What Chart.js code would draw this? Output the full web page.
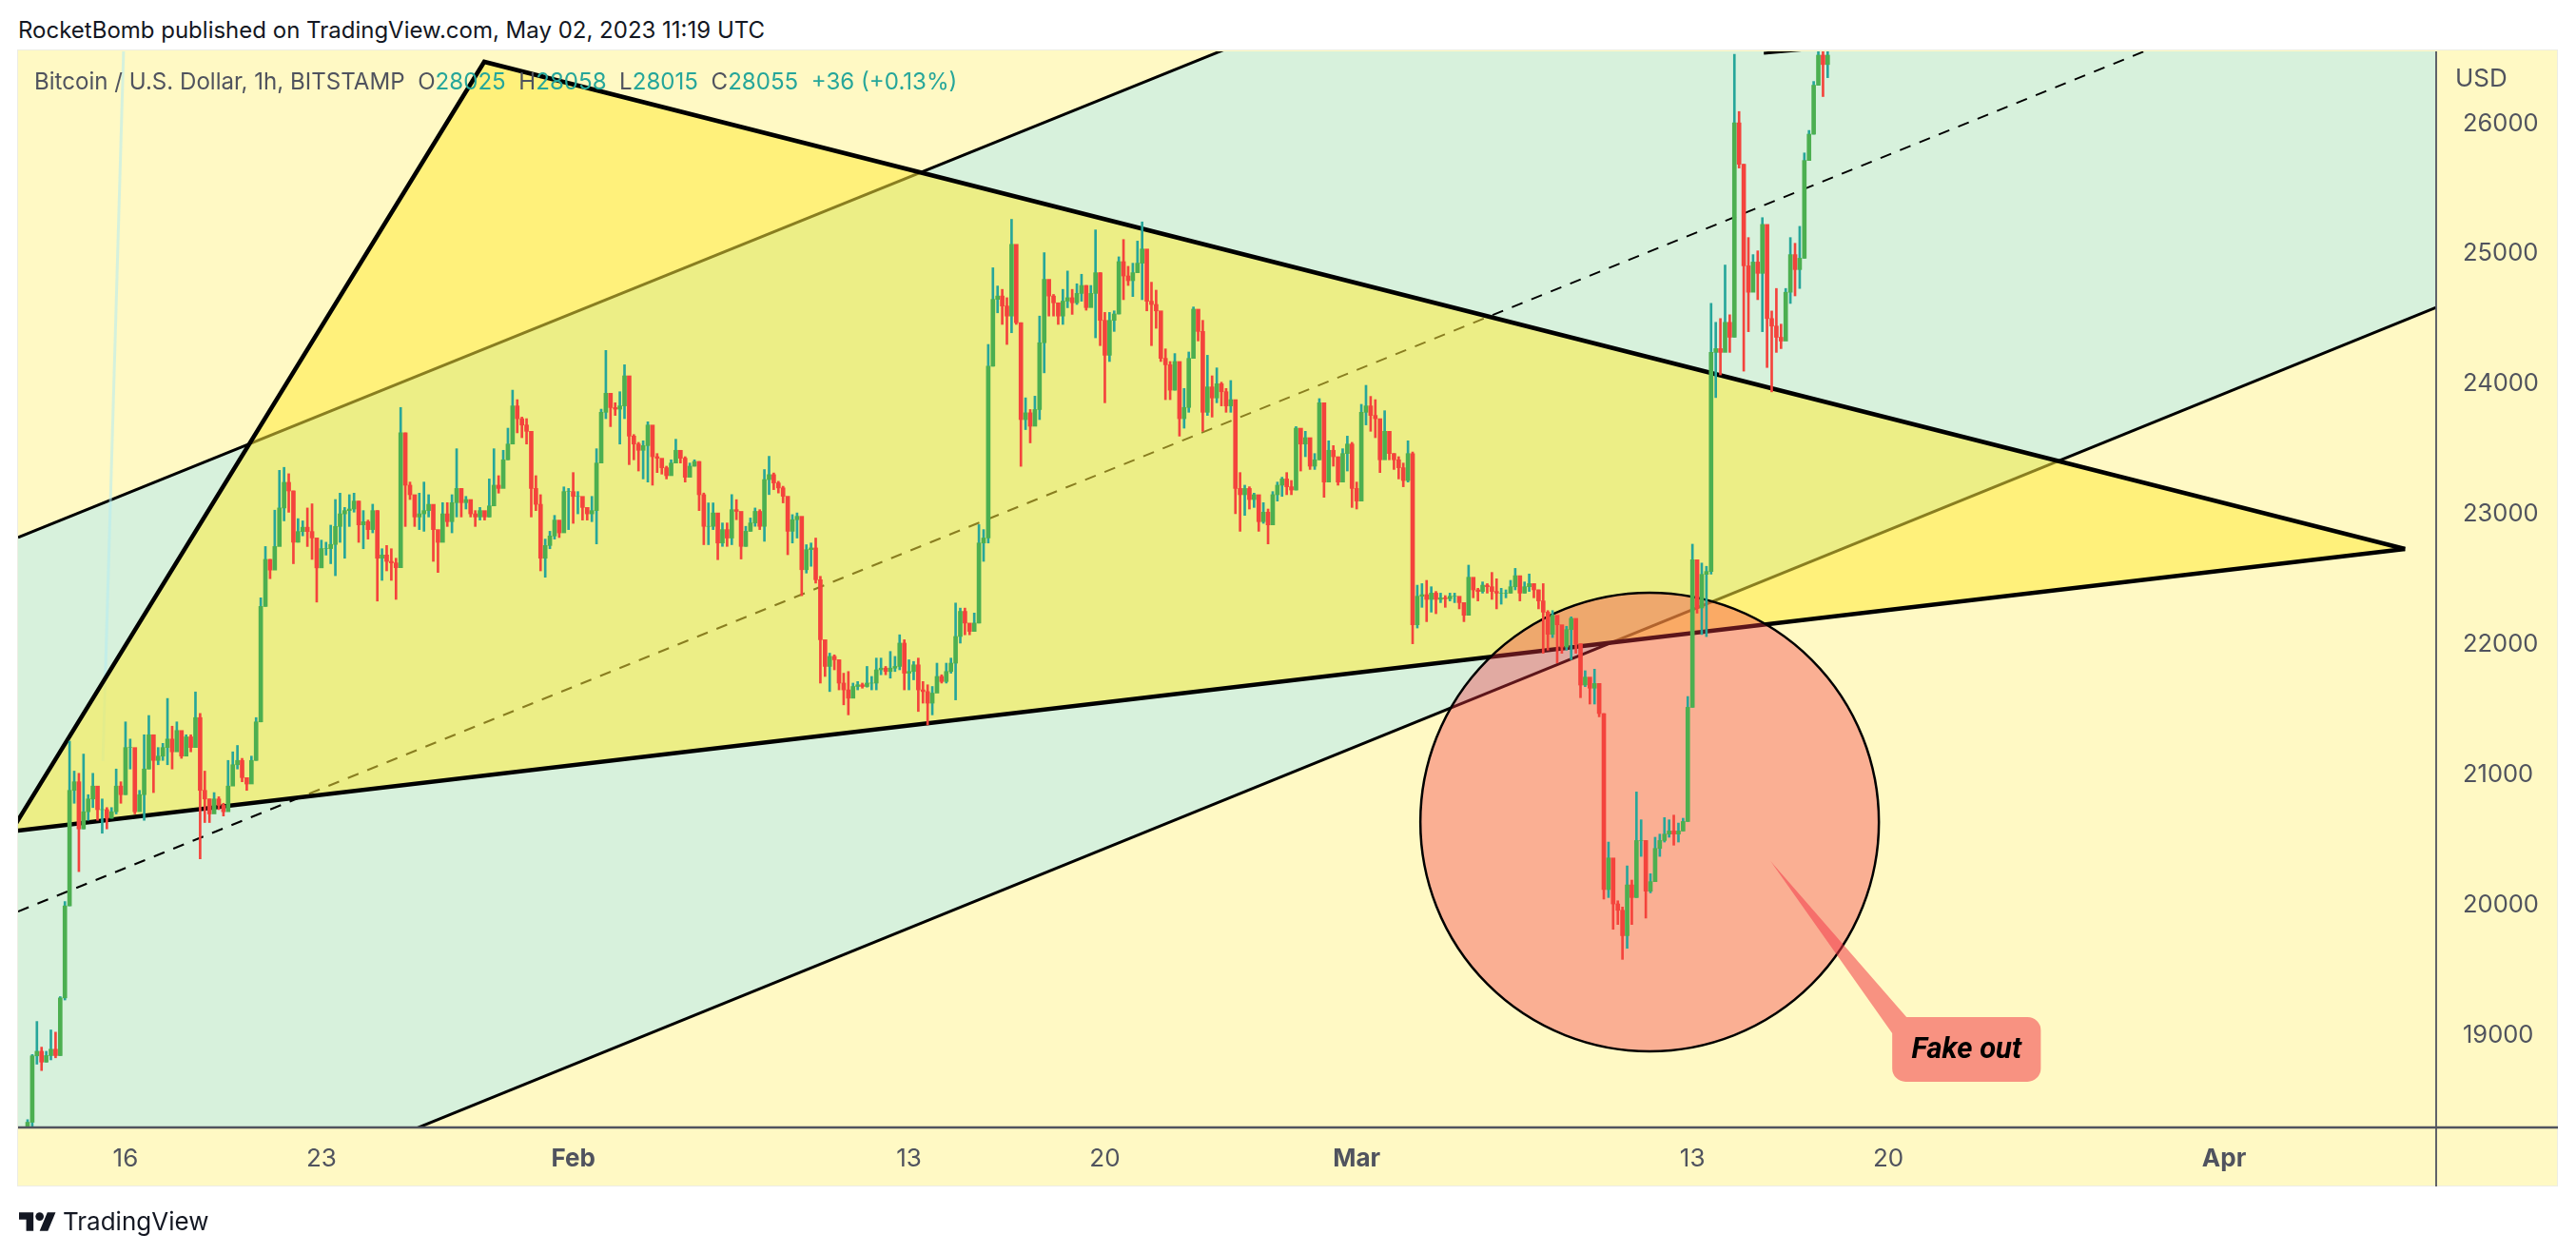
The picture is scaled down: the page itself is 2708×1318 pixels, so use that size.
<!DOCTYPE html>
<html>
<head>
<meta charset="utf-8">
<title>Bitcoin / U.S. Dollar</title>
<script src="https://cdn.jsdelivr.net/npm/chart.js@4/dist/chart.umd.js"></script>
<style>
    html, body { margin: 0; padding: 0; background: #fff; width: 2708px; height: 1318px; overflow: hidden; font-family: Inter, sans-serif; }
    #published { position: absolute; left: 19px; top: 17px; font-size: 24px; line-height: 30px; color: #131722; white-space: nowrap; }
    #panel { position: absolute; left: 18px; top: 52px; width: 2671px; height: 1195px; background: #FFF9C4; border: 1.5px solid #EDEDE4; box-sizing: border-box; }
    #chart { position: absolute; left: 0; top: 0; }
    #legend { position: absolute; left: 36px; top: 71px; font-size: 24.1px; line-height: 30px; color: #50535E; white-space: pre; }
    #legend b { font-weight: 400; color: #26A69A; }
    #usd { position: absolute; left: 2581px; top: 67px; font-size: 26px; line-height: 30px; color: #50535E; }
    #brand { position: absolute; left: 20px; top: 1270px; display: flex; align-items: center; color: #131722; font-size: 26px; line-height: 28px; }
    #brand svg { width: 39px; height: 24px; margin-right: 7px; }
</style>
</head>
<body>
<div id="published">RocketBomb published on TradingView.com, May 02, 2023 11:19 UTC</div>
<div id="panel"></div>
<canvas id="chart" width="2708" height="1318"></canvas>
<div id="legend">Bitcoin / U.S. Dollar, 1h, BITSTAMP  O<b>28025</b>  H<b>28058</b>  L<b>28015</b>  C<b>28055</b>  <b>+36 (+0.13%)</b></div>
<div id="usd">USD</div>
<div id="brand">
    <svg viewBox="0 0 36 18"><path fill="#131722" d="M14 18H7V7H0V0h14v18zM28 18h-8l7.5-18h8L28 18z"/><circle fill="#131722" cx="20" cy="4" r="4"/></svg>
    <span>TradingView</span>
</div>

<script>
// --- Axes (x is days since Jan 1 2023) ---
const DAY_MIN = 11.16;
const DAY_MAX = 97.58;
const PRICE_MIN = 18290;
const PRICE_MAX = 26555;

const dayTicks = [15, 22, 31, 43, 50, 59, 71, 78, 90];
const dayLabels = ['16', '23', 'Feb', '13', '20', 'Mar', '13', '20', 'Apr'];
const monthLabels = ['Feb', 'Mar', 'Apr'];
const priceTicks = [19000, 20000, 21000, 22000, 23000, 24000, 25000, 26000];

// --- Price series at about one candle per 4 hours ---
const FIRST_CANDLE_DAY = 11.5;
const CANDLES_PER_DAY = 6;

const candleCloses = [
    18330, 18840, 18875, 18792, 18842, 18891, 18842, 19285, 19992, 20879, 20945, 20583, 20715, 20813, 20912, 20731, 20731, 20665, 20715, 20912,
    20846, 21208, 21208, 20715, 20846, 21043, 21306, 21109, 21142, 21208, 21273, 21175, 21339, 21142, 21290, 21208, 21438, 20879, 20813, 20698,
    20813, 20764, 20715, 20912, 21076, 21109, 20977, 20928, 21109, 21405, 22292, 22653, 22571, 22752, 23048, 23245, 23179, 22785, 22867, 22900,
    22867, 22818, 22588, 22736, 22736, 22768, 22906, 23003, 23028, 23040, 23101, 22918, 22943, 22882, 23028, 22662, 22687, 22638, 22626, 22589,
    23625, 23223, 23150, 22979, 23003, 23028, 23076, 22882, 22784, 23003, 22943, 23089, 23198, 23089, 23113, 23003, 22979, 23028, 22979, 23064,
    23223, 23198, 23418, 23539, 23832, 23734, 23685, 23637, 23198, 23076, 22662, 22760, 22833, 22955, 22857, 23174, 23174, 23137, 23137, 23052,
    23003, 23028, 23393, 23783, 23929, 23819, 23807, 23832, 24063, 23600, 23539, 23491, 23527, 23685, 23442, 23430, 23357, 23296, 23393, 23491,
    23430, 23284, 23369, 23405, 23150, 22907, 22907, 23010, 22779, 22882, 22817, 23035, 23022, 22753, 22869, 22933, 23022, 22907, 23266, 23304,
    23240, 23202, 23138, 22869, 22958, 22984, 22574, 22728, 22741, 22497, 22036, 21831, 21908, 21882, 21703, 21651, 21587, 21677, 21690, 21677,
    21703, 21703, 21805, 21818, 21792, 21818, 21831, 22010, 21779, 21792, 21843, 21651, 21638, 21549, 21626, 21754, 21715, 21792, 21856, 22061,
    22254, 22164, 22100, 22164, 22779, 22817, 24137, 24650, 24676, 24599, 24522, 25073, 24471, 23727, 23779, 23676, 23804, 24317, 24804, 24676,
    24624, 24522, 24637, 24663, 24624, 24696, 24757, 24587, 24696, 24855, 24489, 24221, 24489, 24538, 24940, 24830, 24794, 24855, 24928, 25037,
    24636, 24611, 24562, 24197, 24148, 23953, 24173, 23734, 23820, 24197, 24575, 24404, 23783, 23978, 23893, 24002, 23941, 23832, 23880, 23198,
    23150, 23198, 23113, 23150, 22943, 23016, 22918, 23150, 23223, 23271, 23211, 23186, 23661, 23539, 23588, 23369, 23418, 23856, 23247, 23491,
    23442, 23247, 23466, 23539, 23198, 23101, 23783, 23832, 23759, 23734, 23418, 23637, 23466, 23418, 23357, 23259, 23466, 22151, 22370, 22382,
    22346, 22394, 22346, 22358, 22351, 22370, 22370, 22321, 22224, 22516, 22419, 22407, 22455, 22443, 22407, 22394, 22394, 22394, 22443, 22528,
    22394, 22443, 22467, 22419, 22334, 22248, 22078, 22224, 22151, 21980, 22114, 22200, 22005, 21688, 21749, 21664, 21700, 21469, 20117, 20360,
    20007, 19958, 19763, 20153, 20056, 20494, 20494, 20105, 20178, 20433, 20494, 20543, 20567, 20543, 20567, 20640, 21517, 22650, 22280, 22538,
    22560, 24243, 24272, 24243, 24474, 24359, 26006, 25688, 24908, 24705, 24937, 24850, 25226, 24503, 24445, 24359, 24330, 24705, 24994, 24879,
    24966, 25717, 25919, 26295, 26526, 26454, 26526
];

const candleHighs = [
    18350, 18850, 19104, 18907, 18875, 19039, 19022, 19295, 20025, 21257, 21027, 21010, 21158, 20846, 21010, 20813, 20813, 20747, 20747, 21043,
    20945, 21405, 21273, 21142, 20879, 21306, 21454, 21306, 21208, 21240, 21585, 21372, 21405, 21306, 21306, 21306, 21635, 21470, 21027, 20813,
    20862, 20830, 20780, 21109, 21175, 21224, 21125, 20977, 21142, 21438, 22358, 22752, 22653, 23031, 23337, 23360, 23311, 23179, 22966, 22949,
    23048, 23080, 22752, 22801, 22785, 22916, 23113, 23162, 23052, 23150, 23162, 23101, 23028, 22955, 23077, 23028, 22735, 22760, 22735, 22662,
    23820, 23625, 23247, 23101, 23162, 23247, 23150, 23028, 22809, 23089, 23089, 23150, 23503, 23198, 23137, 23101, 23028, 23052, 23016, 23271,
    23503, 23296, 23491, 23661, 23953, 23880, 23746, 23734, 23539, 23296, 23150, 22809, 22869, 22991, 22930, 23210, 23198, 23320, 23174, 23125,
    23028, 23137, 23503, 23807, 24258, 23856, 23856, 23941, 24148, 23917, 23612, 23552, 23564, 23710, 23637, 23466, 23405, 23369, 23418, 23576,
    23466, 23442, 23393, 23418, 23405, 23163, 23087, 23087, 22946, 22933, 22933, 23151, 23112, 22958, 22907, 22971, 23048, 23035, 23343, 23445,
    23317, 23253, 23215, 23125, 22997, 23010, 22971, 22766, 22779, 22817, 22523, 21933, 21933, 21920, 21882, 21779, 21792, 21703, 21715, 21703,
    21831, 21754, 21895, 21895, 21831, 21946, 21908, 22074, 22036, 21882, 21869, 21895, 21715, 21690, 21677, 21856, 21767, 21856, 21895, 22318,
    22279, 22279, 22138, 22241, 22920, 22882, 24304, 24893, 24753, 24727, 24663, 25265, 25009, 24471, 23894, 23804, 23907, 24522, 25009, 24765,
    24688, 24599, 24727, 24868, 24727, 24770, 24843, 24757, 24757, 25184, 24855, 24550, 24550, 24562, 24977, 25110, 24904, 24928, 25098, 25245,
    24818, 24782, 24721, 24465, 24270, 24173, 24234, 24124, 23966, 24246, 24592, 24514, 24489, 24221, 24063, 24124, 24014, 23966, 24027, 23856,
    23320, 23223, 23211, 23162, 23101, 23089, 23040, 23174, 23247, 23284, 23320, 23259, 23673, 23637, 23637, 23466, 23466, 23888, 23564, 23564,
    23527, 23405, 23503, 23600, 23552, 23247, 23844, 23990, 23905, 23880, 23710, 23795, 23637, 23466, 23442, 23393, 23564, 23478, 22455, 22467,
    22492, 22443, 22407, 22394, 22375, 22394, 22394, 22358, 22321, 22609, 22467, 22431, 22480, 22467, 22553, 22504, 22431, 22419, 22492, 22584,
    22516, 22480, 22541, 22467, 22419, 22467, 22260, 22260, 22200, 22053, 22139, 22212, 22114, 22005, 21798, 21737, 21810, 21700, 21469, 20482,
    20129, 20031, 19983, 20299, 20190, 20867, 20653, 20494, 20239, 20519, 20543, 20670, 20653, 20689, 20628, 20665, 21600, 22770, 22650, 22625,
    22600, 24619, 24474, 24503, 24914, 24532, 26532, 26093, 25688, 25125, 24994, 25023, 25278, 25197, 24561, 24734, 24460, 24734, 25125, 25081,
    25211, 25775, 25948, 26324, 26640, 26620, 26640
];

const candleLows = [
    18280, 18290, 18776, 18727, 18792, 18809, 18825, 18842, 19269, 19992, 20780, 20255, 20583, 20649, 20747, 20649, 20550, 20583, 20665, 20698,
    20780, 20846, 21043, 20698, 20764, 20649, 21043, 20862, 21076, 21109, 21076, 21043, 21273, 21125, 21240, 21175, 21208, 20353, 20632, 20632,
    20731, 20731, 20682, 20780, 20945, 21043, 20945, 20879, 20945, 21109, 21405, 22292, 22505, 22653, 22785, 22949, 23015, 22620, 22785, 22834,
    22752, 22653, 22325, 22653, 22686, 22620, 22528, 22784, 22662, 22906, 23016, 22784, 22735, 22809, 22857, 22333, 22492, 22565, 22492, 22346,
    22711, 22906, 23113, 22906, 22882, 22869, 22979, 22638, 22553, 22809, 22906, 22857, 22979, 22979, 23040, 22979, 22906, 22955, 22955, 22979,
    23076, 23162, 23296, 23418, 23637, 23625, 23588, 23539, 22979, 23028, 22565, 22516, 22735, 22809, 22821, 22906, 22882, 22930, 23003, 22955,
    22955, 22943, 22772, 23393, 23734, 23673, 23759, 23539, 23734, 23381, 23418, 23332, 23271, 23247, 23223, 23320, 23308, 23271, 23344, 23393,
    23393, 23247, 23296, 23369, 23028, 22766, 22766, 22882, 22651, 22753, 22753, 22766, 22958, 22656, 22753, 22869, 22907, 22882, 22792, 23151,
    23189, 23163, 23087, 22689, 22779, 22817, 22374, 22548, 22600, 22471, 21703, 21754, 21638, 21805, 21651, 21536, 21459, 21626, 21651, 21664,
    21672, 21651, 21651, 21767, 21767, 21741, 21792, 21805, 21651, 21651, 21728, 21485, 21549, 21382, 21459, 21651, 21703, 21703, 21779, 21574,
    22010, 22074, 22074, 22100, 22164, 22638, 22779, 24137, 24547, 24458, 24304, 24394, 24458, 23368, 23650, 23548, 23702, 23727, 24086, 24522,
    24522, 24458, 24458, 24586, 24535, 24611, 24636, 24567, 24660, 24355, 24295, 23856, 24173, 24404, 24538, 24648, 24757, 24672, 24855, 24648,
    24562, 24295, 24428, 24173, 23880, 23880, 23953, 23600, 23661, 23783, 24197, 24331, 23637, 23759, 23746, 23856, 23832, 23783, 23783, 23004,
    22869, 22991, 23040, 23052, 22869, 22930, 22772, 23077, 23101, 23137, 23150, 23150, 23186, 23332, 23442, 23344, 23344, 23418, 23130, 23357,
    23369, 23223, 23332, 23332, 23052, 23040, 23101, 23686, 23637, 23588, 23320, 23442, 23418, 23344, 23271, 23211, 23247, 22005, 22126, 22285,
    22175, 22248, 22236, 22321, 22285, 22334, 22321, 22273, 22175, 22224, 22358, 22334, 22394, 22394, 22346, 22273, 22309, 22358, 22394, 22419,
    22334, 22394, 22407, 22358, 22273, 21932, 21956, 22053, 21858, 21932, 21956, 21883, 21932, 21591, 21676, 21542, 21542, 21444, 20044, 20056,
    19812, 19849, 19581, 19666, 19849, 20056, 20372, 19898, 20092, 20202, 20372, 20482, 20519, 20458, 20482, 20567, 20640, 21517, 22240, 22076,
    22060, 22540, 23896, 24070, 24301, 24243, 24359, 25659, 24099, 24402, 24734, 24648, 24402, 24127, 23940, 24243, 24272, 24431, 24619, 24677,
    24734, 24966, 25746, 25919, 26295, 26208, 26353
];

// --- Drawn lines as [day, price] points ---
const channelUpper = [[11.16, 22821], [97.58, 30333]];
const channelLower = [[11.16, 17040], [97.58, 24589]];
const channelMiddle = [[11.16, 19949], [97.58, 27462]];
const faintLine = [[14.93, 26555], [14.19, 21103]];
const triangleUpper = [[10.91, 20563], [27.82, 26475], [96.47, 22733]];
const triangleLower = [[10.91, 20563], [96.47, 22733]];
const topEdgeLine = [[73.55, 26541], [75.12, 26570]];
const fakeOutCircle = [[69.47, 20636]];

// Callout anchored to the chart: tip and opposite corners of the label box
const calloutTip = [73.79, 20336];
const calloutBoxStart = [78.14, 19138];
const calloutBoxEnd = [83.45, 18641];
const calloutText = 'Fake out';

const UP_BODY = '#4CAF50';
const UP_WICK = '#26A69A';
const DOWN = '#F4433C';

const toPoints = arr => arr.map(p => ({ x: p[0], y: p[1] }));

function candleDatasets() {
    const days = candleCloses.map((_, i) => FIRST_CANDLE_DAY + i / CANDLES_PER_DAY);
    const opens = candleCloses.map((c, i) => i === 0 ? candleLows[0] : candleCloses[i - 1]);
    const isUp = candleCloses.map((c, i) => c >= opens[i]);

    return [
        {
            type: 'bar', order: 2, grouped: false, barThickness: 2,
            data: days.map((d, i) => ({ x: d, y: [candleLows[i], candleHighs[i]] })),
            backgroundColor: isUp.map(up => up ? UP_WICK : DOWN)
        },
        {
            type: 'bar', order: 1, grouped: false, barThickness: 4,
            data: days.map((d, i) => ({ x: d, y: [opens[i], candleCloses[i]] })),
            backgroundColor: isUp.map(up => up ? UP_BODY : DOWN)
        }
    ];
}

function lineDataset(points, order, width, extra) {
    return Object.assign({
        type: 'line', order: order, data: toPoints(points),
        borderColor: '#000', borderWidth: width, pointRadius: 0, tension: 0, fill: false, clip: 0
    }, extra);
}

// Axis lines run on into the price and time panels, so Chart.js borders are not enough
const axisFrame = {
    id: 'axisFrame',
    afterDatasetsDraw(chart) {
        const { ctx, scales: { x, y } } = chart;
        ctx.save();
        ctx.strokeStyle = '#50535E';
        ctx.lineWidth = 2.4;
        ctx.beginPath();
        ctx.moveTo(x.left, y.bottom);
        ctx.lineTo(y.right, y.bottom);
        ctx.stroke();
        ctx.lineWidth = 1.8;
        ctx.beginPath();
        ctx.moveTo(x.right, y.top);
        ctx.lineTo(x.right, x.bottom);
        ctx.stroke();
        ctx.restore();
    }
};

const fakeOutCallout = {
    id: 'fakeOutCallout',
    afterDatasetsDraw(chart) {
        const { ctx, scales: { x, y } } = chart;
        const tipX = x.getPixelForValue(calloutTip[0]);
        const tipY = y.getPixelForValue(calloutTip[1]);
        const left = x.getPixelForValue(calloutBoxStart[0]);
        const top = y.getPixelForValue(calloutBoxStart[1]);
        const right = x.getPixelForValue(calloutBoxEnd[0]);
        const bottom = y.getPixelForValue(calloutBoxEnd[1]);
        const r = 14;

        ctx.save();
        ctx.fillStyle = 'rgba(242, 54, 69, 0.53)';
        ctx.beginPath();
        ctx.moveTo(tipX, tipY);
        ctx.lineTo(left + 15, top);
        ctx.lineTo(right - r, top);
        ctx.arcTo(right, top, right, top + r, r);
        ctx.lineTo(right, bottom - r);
        ctx.arcTo(right, bottom, right - r, bottom, r);
        ctx.lineTo(left + r, bottom);
        ctx.arcTo(left, bottom, left, bottom - r, r);
        ctx.lineTo(left, top + 17);
        ctx.closePath();
        ctx.fill();

        ctx.fillStyle = '#000';
        ctx.font = 'italic bold 31px Roboto';
        ctx.textAlign = 'center';
        ctx.textBaseline = 'middle';
        ctx.fillText(calloutText, (left + right) / 2, (top + bottom) / 2 + 1);
        ctx.restore();
    }
};

new Chart(document.getElementById('chart').getContext('2d'), {
    data: {
        datasets: [
            lineDataset(channelUpper, 10, 3, { fill: '+1', backgroundColor: '#D7F1DC' }),
            lineDataset(channelLower, 9, 3),
            lineDataset(channelMiddle, 8, 2, { borderDash: [12, 10] }),
            lineDataset(faintLine, 8, 3, { borderColor: 'rgba(178, 235, 242, 0.55)' }),
            lineDataset(triangleUpper, 7, 4.5, { fill: '+1', backgroundColor: 'rgba(255, 235, 59, 0.537)' }),
            lineDataset(triangleLower, 6, 4.5),
            lineDataset(topEdgeLine, 6, 3),
            {
                type: 'line', order: 3, data: toPoints(fakeOutCircle), showLine: false,
                pointRadius: 241, pointBackgroundColor: 'rgba(242, 54, 69, 0.38)',
                pointBorderColor: '#000', pointBorderWidth: 2.5
            },
            ...candleDatasets()
        ]
    },
    plugins: [axisFrame, fakeOutCallout],
    options: {
        responsive: false,
        animation: false,
        devicePixelRatio: 1,
        layout: { autoPadding: false, padding: { left: 19, top: 54, right: 19, bottom: 71 } },
        plugins: { legend: { display: false }, tooltip: { enabled: false } },
        scales: {
            x: {
                type: 'linear', min: DAY_MIN, max: DAY_MAX, offset: false,
                grid: { display: false }, border: { display: false },
                afterBuildTicks: axis => { axis.ticks = dayTicks.map(v => ({ value: v })); },
                afterFit: axis => { axis.height = 62; },
                ticks: {
                    autoSkip: false, maxRotation: 0, padding: 10, color: '#50535E',
                    callback: value => dayLabels[dayTicks.indexOf(value)],
                    font: c => ({ family: 'Inter', size: 26, weight: monthLabels.includes(c.tick && c.tick.label) ? 'bold' : 'normal' })
                }
            },
            y: {
                type: 'linear', position: 'right', min: PRICE_MIN, max: PRICE_MAX,
                grid: { display: false }, border: { display: false },
                afterBuildTicks: axis => { axis.ticks = priceTicks.map(v => ({ value: v })); },
                afterFit: axis => { axis.width = 128; },
                ticks: {
                    padding: 20, crossAlign: 'near', color: '#50535E',
                    callback: value => String(value),
                    font: { family: 'Inter', size: 25.5 }
                }
            }
        }
    }
});
</script>
</body>
</html>
